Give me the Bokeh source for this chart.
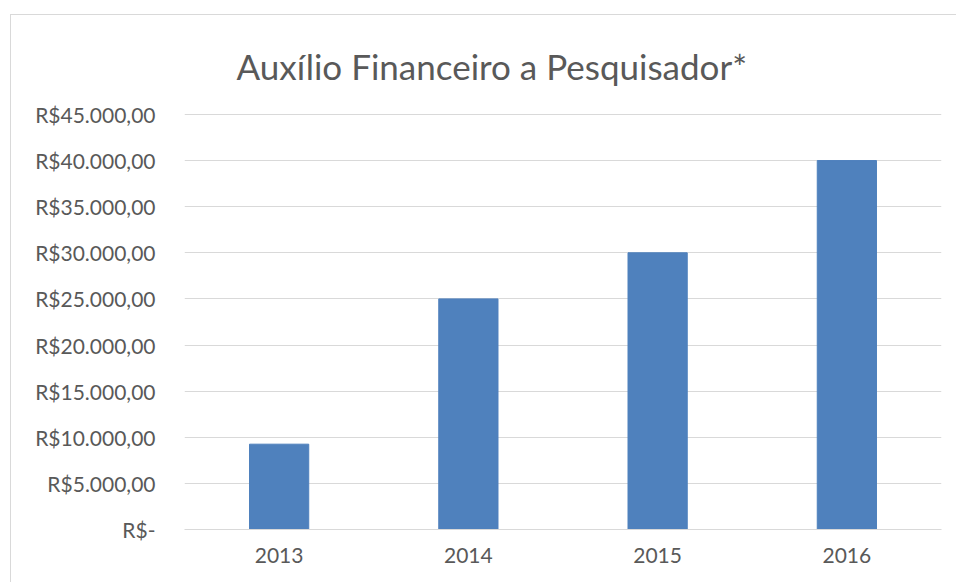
from bokeh.plotting import figure
from bokeh.models import FixedTicker, Range1d
from bokeh.embed import file_html
from bokeh.resources import INLINE

years = ["2013", "2014", "2015", "2016"]
valores = [9250, 25000, 30000, 40000]
tick_values = [0, 5000, 10000, 15000, 20000, 25000, 30000, 35000, 40000, 45000]
tick_labels = ["R$-", "R$5.000,00", "R$10.000,00", "R$15.000,00", "R$20.000,00",
               "R$25.000,00", "R$30.000,00", "R$35.000,00", "R$40.000,00", "R$45.000,00"]
titulo = "Auxílio Financeiro a Pesquisador*"

FONT = "Lato"
TXT = "#595959"
GRID = "#d9d9d9"

W, H = 946, 568
p = figure(x_range=years, width=W, height=H, output_backend="svg",
           toolbar_location=None, margin=(14, 0, 0, 10),
           min_border_left=173, min_border_right=16, min_border_top=98,
           min_border_bottom=54, title=titulo)
p.styles = {"border-top": "1px solid #d9d9d9", "border-left": "1px solid #d9d9d9"}
p.y_range = Range1d(0, 45100)
p.x_range.range_padding = 0
p.vbar(x=years, top=valores, width=0.313, color="#4f81bd")

p.title.align = "left"
p.title.offset = 52
p.title.standoff = 54
p.title.text_font = FONT
p.title.text_font_size = "35px"
p.title.text_font_style = "normal"
p.title.text_color = TXT

p.outline_line_color = None
p.xgrid.grid_line_color = None
p.ygrid.grid_line_color = GRID
p.ygrid.grid_line_width = 1

p.yaxis.ticker = FixedTicker(ticks=tick_values)
p.yaxis.major_label_overrides = {v: l for v, l in zip(tick_values, tick_labels)}
for ax in (p.xaxis[0], p.yaxis[0]):
    ax.major_tick_line_color = None
    ax.minor_tick_line_color = None
    ax.major_tick_in = 0
    ax.major_tick_out = 0
    ax.major_label_text_font = FONT
    ax.major_label_text_color = TXT
    ax.major_label_text_font_size = "21px"
p.yaxis.axis_line_color = None
p.xaxis.axis_line_color = GRID
p.yaxis.major_label_standoff = 29
p.xaxis.major_label_standoff = 18

open("out.html", "w").write(file_html(p, INLINE))
